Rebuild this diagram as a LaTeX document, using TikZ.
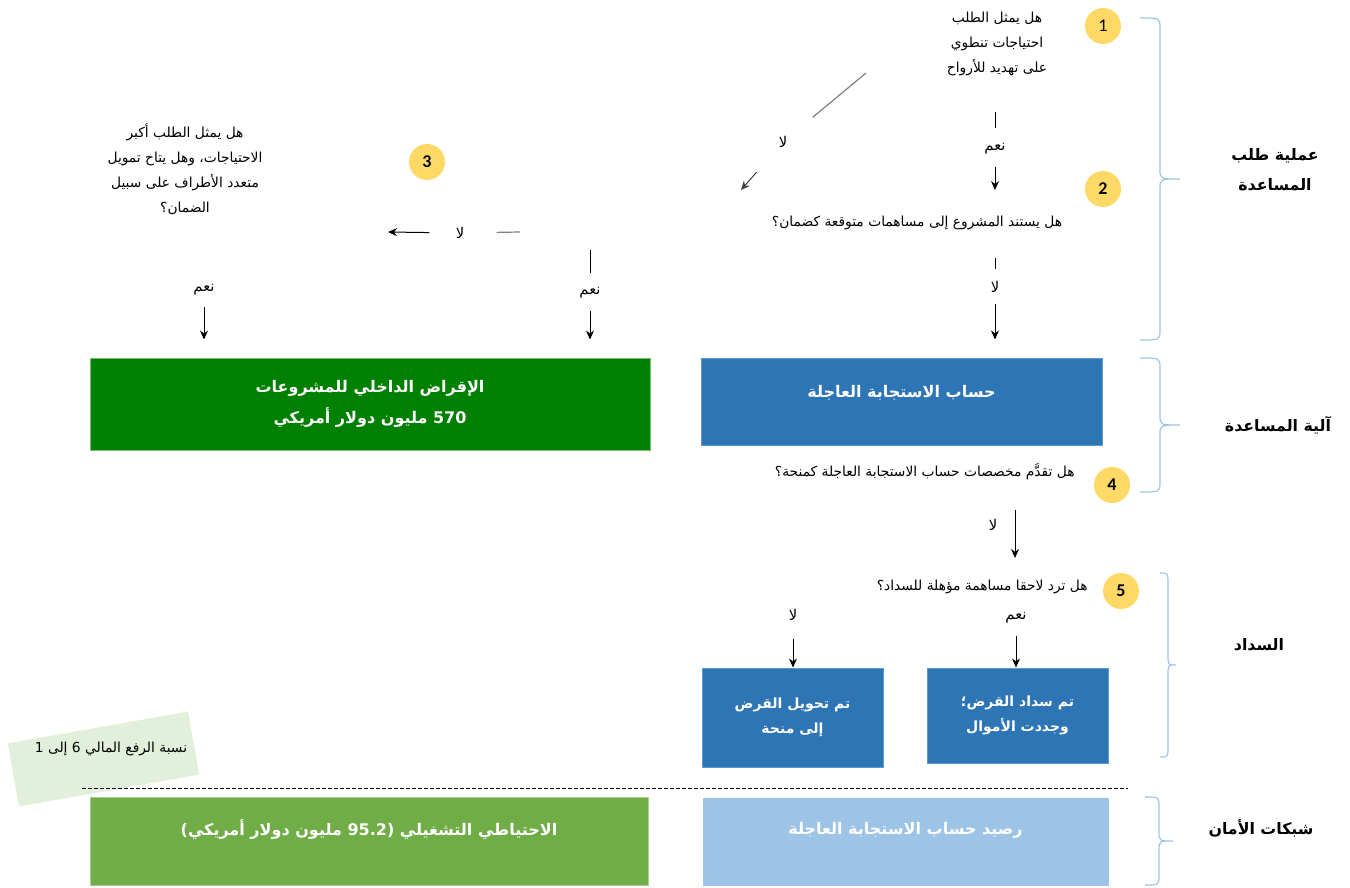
\documentclass[tikz,border=0pt]{standalone}
\usepackage{fontspec}
\setmainfont{DejaVu Sans}
\newfontfamily\arabicfont[Script=Arabic]{DejaVu Sans}
\newfontfamily\numfont{Carlito}
\usetikzlibrary{arrows.meta}
\TeXXeTstate=1
\newcommand{\ar}[1]{{\arabicfont\beginR #1\endR}}
\definecolor{badgeyellow}{HTML}{FFD966}
\definecolor{braceblue}{HTML}{9DC3E6}
\definecolor{erablue}{HTML}{2E75B6}
\definecolor{eraedge}{HTML}{5B9BD5}
\definecolor{paleblue}{HTML}{9DC3E6}
\definecolor{darkgreen}{HTML}{008000}
\definecolor{darkedge}{HTML}{7FBF6F}
\definecolor{midgreen}{HTML}{70AD47}
\definecolor{midedge}{HTML}{A9D18E}
\definecolor{notegreen}{HTML}{E2EFDA}
\tikzstyle{arrow} = [->,>={Stealth[length=4.5pt,width=4pt]},line width=0.5pt]
\tikzstyle{question} = [font=\fontsize{6.9}{12.5}\selectfont,align=center,inner sep=0pt]
\tikzstyle{answer} = [font=\fontsize{7.4}{8}\selectfont,inner sep=1pt]
\tikzstyle{badge} = [circle,fill=badgeyellow,minimum size=18pt,inner sep=0pt,font=\numfont\fontsize{9}{9}\selectfont]
\tikzstyle{box} = [draw,line width=0.5pt,text=white,align=center,inner sep=0pt,font=\fontsize{8}{15.5}\selectfont\bfseries]
\tikzstyle{smallbox} = [box,font=\fontsize{7}{12.5}\selectfont\bfseries]
\tikzstyle{section} = [font=\fontsize{7.9}{15}\selectfont\bfseries,align=center,inner sep=0pt]
\tikzstyle{stage} = [draw=braceblue,line width=0.6pt]
% left x, top y, bottom y, half width
\newcommand{\stagebrace}[4]{%
  \pgfmathsetmacro\bracemid{(#2+#3)/2}
  \draw[stage] (#1,#2) .. controls (#1+#4,#2) .. (#1+#4,#2+10) -- (#1+#4,\bracemid-10)
    .. controls (#1+#4,\bracemid) .. (#1+2*#4,\bracemid) .. controls (#1+#4,\bracemid) .. (#1+#4,\bracemid+10)
    -- (#1+#4,#3-10) .. controls (#1+#4,#3) .. (#1,#3);}

\begin{document}
\begin{tikzpicture}[x=0.5pt,y=-0.5pt]
          \useasboundingbox (0,0) rectangle (1350,888);
          \node[question] at (997,44) (q1) {\ar{هل يمثل الطلب}\\\ar{احتياجات تنطوي}\\\ar{على تهديد للأرواح}};
          \node[badge] at (1103,26) (b1) {1};
          \node[question] at (917,223) (q2) {\ar{هل يستند المشروع إلى مساهمات متوقعة كضمان؟}};
          \node[badge, font=\numfont\fontsize{9}{9}\selectfont\bfseries] at (1103,189) (b2) {2};
          \node[question] at (185,169) (q3) {\ar{هل يمثل الطلب أكبر}\\\ar{الاحتياجات، وهل يتاح تمويل}\\\ar{متعدد الأطراف على سبيل}\\\ar{الضمان؟}};
          \node[badge, font=\numfont\fontsize{9}{9}\selectfont\bfseries] at (427,162) (b3) {3};
          \node[question, anchor=east] at (1075,472) (q4) {\ar{هل تقدَّم مخصصات حساب الاستجابة العاجلة كمنحة؟}};
          \node[badge, font=\numfont\fontsize{9}{9}\selectfont\bfseries] at (1112,485) (b4) {4};
          \node[question, anchor=east] at (1088,587) (q5) {\ar{هل ترد لاحقا مساهمة مؤهلة للسداد؟}};
          \node[badge, font=\numfont\fontsize{9}{9}\selectfont\bfseries] at (1121,591) (b5) {5};

          \node[answer] at (783,142) (no1) {\ar{لا}};
          \node[answer] at (995,149) (yes1) {\ar{نعم}};
          \node[answer] at (995,287) (no2) {\ar{لا}};
          \node[answer] at (460,233) (no3) {\ar{لا}};
          \node[answer] at (590,293) (yes3) {\ar{نعم}};
          \node[answer] at (204,290) (yes3b) {\ar{نعم}};
          \node[answer] at (993,525) (no4) {\ar{لا}};
          \node[answer] at (793,615) (no5) {\ar{لا}};
          \node[answer] at (1016,618) (yes5) {\ar{نعم}};

          \node[box, fill=darkgreen, draw=darkedge, minimum width=280pt, minimum height=46pt] at (370,404) (loan) {\ar{الإقراض الداخلي للمشروعات}\\\ar{570 مليون دولار أمريكي}};
          \node[box, fill=erablue, draw=eraedge, minimum width=200.5pt, minimum height=43.5pt, text height=6pt, text depth=10.5pt] at (901.5,401.5) (era) {\ar{حساب الاستجابة العاجلة}};
          \node[smallbox, fill=erablue, draw=eraedge, minimum width=90.5pt, minimum height=49.5pt] at (792.5,717.5) (grant) {\ar{تم تحويل القرض}\\\ar{إلى منحة}};
          \node[smallbox, fill=erablue, draw=eraedge, minimum width=90.5pt, minimum height=47.5pt] at (1017.5,715.5) (repaid) {\ar{تم سداد القرض؛}\\\ar{وجددت الأموال}};
          \node[box, fill=midgreen, draw=midedge, minimum width=279pt, minimum height=44pt, text height=6pt, text depth=11.5pt] at (369,841) (reserve) {\ar{الاحتياطي التشغيلي (95.2 مليون دولار أمريكي)}};
          \node[box, fill=paleblue, draw=paleblue, minimum width=202.5pt, minimum height=43.5pt, text height=6pt, text depth=13.5pt] at (905.5,841.5) (balance) {\ar{رصيد حساب الاستجابة العاجلة}};

          \node[fill=notegreen, rotate=10, minimum width=91.5pt, minimum height=32pt] at (103.5,759) (note) {};
          \node[question] at (111,749) (notetext) {\ar{نسبة الرفع المالي 6 إلى 1}};

          \node[section] at (1275,170) (s1) {\ar{عملية طلب}\\\ar{المساعدة}};
          \node[section] at (1278,425) (s2) {\ar{آلية المساعدة}};
          \node[section] at (1259,645) (s3) {\ar{السداد}};
          \node[section] at (1261,828) (s4) {\ar{شبكات الأمان}};

          \coordinate (n1s) at (866,73);
          \coordinate (n1e) at (741,190);
          \coordinate (y1s) at (995,112);
          \coordinate (y1e) at (995,190);
          \coordinate (n2s) at (995,258);
          \coordinate (n3s) at (520,232);
          \coordinate (n3e) at (388,232);
          \coordinate (y3s) at (590,250);
          \coordinate (a4s) at (1015,510);
          \coordinate (a4e) at (1015,558);

          \draw[gray, line width=0.6pt, shorten >=15pt] (n1s) -- (no1);
          \draw[arrow, black!75, shorten <=15pt] (no1) -- (n1e);
          \draw[line width=0.5pt, shorten >=6.5pt] (y1s) -- (yes1);
          \draw[arrow, shorten <=5pt] (yes1) -- (y1e);
          \draw[line width=0.5pt, shorten >=5pt] (n2s) -- (no2);
          \draw[arrow, shorten <=4.5pt, shorten >=9pt] (no2) -- (no2 |- era.north);
          \draw[gray, line width=0.6pt, shorten >=15pt] (n3s) -- (no3);
          \draw[arrow, shorten <=12pt] (no3) -- (n3e);
          \draw[line width=0.5pt, shorten >=6pt] (y3s) -- (yes3);
          \draw[arrow, shorten <=5pt, shorten >=9pt] (yes3) -- (yes3 |- loan.north);
          \draw[arrow, shorten <=4.5pt, shorten >=9pt] (yes3b) -- (yes3b |- loan.north);
          \draw[arrow] (a4s) -- (a4e);
          \draw[arrow, shorten <=8pt] (no5) -- (no5 |- grant.north);
          \draw[arrow, shorten <=5pt] (yes5) -- (yes5 |- repaid.north);

          \coordinate (d1) at (82,788);
          \coordinate (d2) at (1128,788);
          \draw[line width=0.5pt, dash pattern=on 2pt off 1pt] (d1) -- (d2);

          \stagebrace{1140}{18}{340}{20}
          \stagebrace{1140}{358}{492}{20}
          \stagebrace{1160}{573}{757}{8}
          \stagebrace{1145}{797}{885}{14}
        \end{tikzpicture}
\end{document}
